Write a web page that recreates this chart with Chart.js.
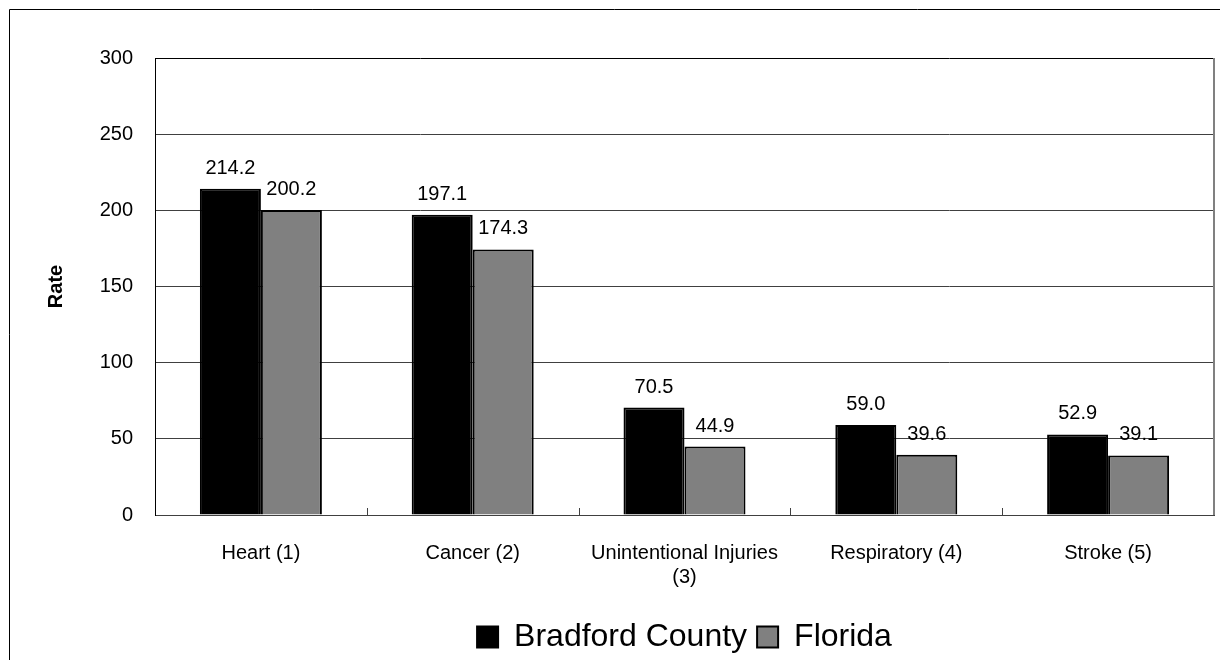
<!DOCTYPE html>
<html>
<head>
<meta charset="utf-8">
<script src="https://cdn.jsdelivr.net/npm/chart.js@4"></script>
<style>
  html, body { margin: 0; padding: 0; background: #fff; }
  #wrap { width: 1220px; height: 660px; }
</style>
</head>
<body>
<div id="wrap"><canvas id="mycanvas" width="1220" height="660"></canvas></div>
<script>
var categories = ['Heart (1)', 'Cancer (2)', ['Unintentional Injuries', '(3)'], 'Respiratory (4)', 'Stroke (5)'];
var bradfordScore = [214.2, 197.1, 70.5, 59.0, 52.9];
var floridaScore = [200.2, 174.3, 44.9, 39.6, 39.1];
var yTicks = [0, 50, 100, 150, 200, 250, 300];

var fontFamily = '"Liberation Sans", Arial, sans-serif';

// frame, plot border, inward category ticks
var framePlugin = {
  id: 'frame',
  beforeDraw: function(chart) {
    var c = chart.ctx;
    c.save();
    c.fillStyle = '#fff';
    c.fillRect(0, 0, chart.width, chart.height);
    c.strokeStyle = '#000';
    c.lineWidth = 1;
    c.beginPath();
    c.moveTo(9.5, chart.height);
    c.lineTo(9.5, 9.5);
    c.lineTo(chart.width, 9.5);
    c.stroke();
    c.restore();
  },
  afterDraw: function(chart) {
    var c = chart.ctx;
    var a = chart.chartArea;
    var xs = chart.scales.x;
    c.save();
    c.strokeStyle = '#808080';
    c.lineWidth = 2;
    c.beginPath();
    c.moveTo(a.right, a.top);
    c.lineTo(a.right, a.bottom);
    c.stroke();
    c.strokeStyle = '#404040';
    c.lineWidth = 1;
    var half = (xs.getPixelForValue(1) - xs.getPixelForValue(0)) / 2;
    for (var i = 0; i < categories.length - 1; i++) {
      var px = Math.round(xs.getPixelForValue(i) + half) + 0.5;
      c.beginPath();
      c.moveTo(px, a.bottom);
      c.lineTo(px, a.bottom - 7);
      c.stroke();
    }
    c.restore();
  }
};

var valueLabels = {
  id: 'valueLabels',
  afterDatasetsDraw: function(chart) {
    var c = chart.ctx;
    c.save();
    c.font = '20px ' + fontFamily;
    c.fillStyle = '#000';
    c.textAlign = 'center';
    c.textBaseline = 'alphabetic';
    chart.data.datasets.forEach(function(ds, di) {
      var meta = chart.getDatasetMeta(di);
      meta.data.forEach(function(bar, i) {
        c.fillText(ds.data[i].toFixed(1), bar.x, bar.y - 15);
      });
    });
    c.restore();
  }
};

var chartdata = {
  labels: categories,
  datasets: [
    {
      label: 'Bradford County',
      backgroundColor: '#000000',
      borderColor: '#000000',
      borderWidth: 2,
      data: bradfordScore
    },
    {
      label: 'Florida',
      backgroundColor: '#808080',
      borderColor: '#000000',
      borderWidth: 2,
      data: floridaScore
    }
  ]
};

var ctx = document.getElementById('mycanvas');
new Chart(ctx, {
  type: 'bar',
  data: chartdata,
  plugins: [framePlugin, valueLabels],
  options: {
    responsive: false,
    animation: false,
    devicePixelRatio: 1,
    categoryPercentage: 0.576,
    barPercentage: 1.0,
    layout: { padding: { top: 58, right: 6, left: 0, bottom: -3 } },
    plugins: {
      tooltip: { enabled: false },
      legend: {
        position: 'bottom',
        fullSize: false,
        labels: {
          boxWidth: 21,
          boxHeight: 21,
          color: '#000',
          font: { family: fontFamily, size: 32 }
        }
      }
    },
    scales: {
      x: {
        afterFit: function(scale) { scale.height = 96; },
        grid: { display: false },
        border: { display: true, color: '#404040', width: 1 },
        ticks: {
          color: '#000',
          padding: 18,
          maxRotation: 0,
          autoSkip: false,
          font: { family: fontFamily, size: 20 }
        }
      },
      y: {
        min: yTicks[0],
        max: yTicks[yTicks.length - 1],
        afterFit: function(scale) { scale.width = 155; },
        afterBuildTicks: function(scale) {
          scale.ticks = yTicks.map(function(v) { return { value: v }; });
        },
        grid: {
          drawTicks: false,
          color: function(c) { return c.tick && c.tick.value === 300 ? '#000' : '#404040'; },
          lineWidth: 1
        },
        border: { display: true, color: '#000', width: 1 },
        ticks: {
          color: '#000',
          padding: 22,
          font: { family: fontFamily, size: 20 }
        },
        title: {
          display: true,
          text: 'Rate',
          color: '#000',
          padding: { top: 44, bottom: 0 },
          font: { family: fontFamily, size: 20, weight: 'bold' }
        }
      }
    }
  }
});
</script>
</body>
</html>
